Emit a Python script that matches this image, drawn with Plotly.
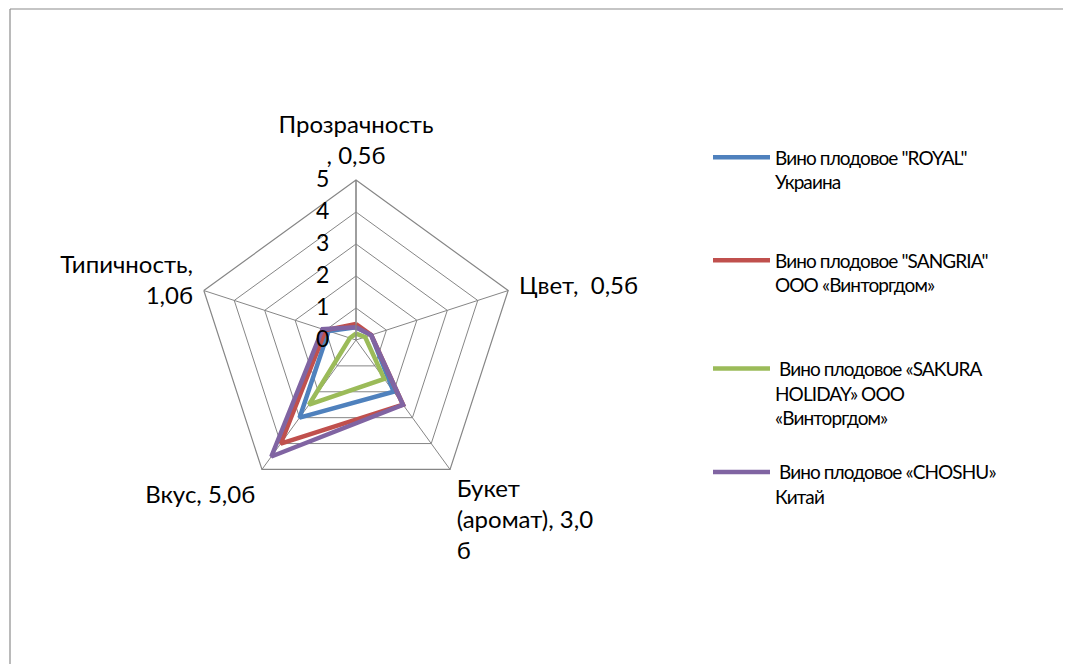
import plotly.graph_objects as go

categories = ["Прозрачность<br>, 0,5б", "Цвет,  0,5б", "Букет<br>(аромат), 3,0<br>б", "Вкус, 5,0б", "Типичность,<br>1,0б"]
series_names = [
    "Вино плодовое \"ROYAL\"<br>Украина",
    "Вино плодовое \"SANGRIA\"<br>ООО «Винторгдом»",
    " Вино плодовое «SAKURA<br>HOLIDAY» ООО<br>«Винторгдом»",
    " Вино плодовое «CHOSHU»<br>Китай",
]
royal = [0.4, 0.5, 2.0, 3.0, 0.9]
sangria = [0.5, 0.5, 2.5, 4.0, 1.0]
sakura = [0.2, 0.3, 1.5, 2.5, 0.2]
choshu = [0.4, 0.5, 2.5, 4.5, 1.1]
radial_ticks = [0, 1, 2, 3, 4, 5]

values = [royal, sangria, sakura, choshu]
colors = ["#4F81BD", "#C0504D", "#9BBB59", "#8064A2"]
legend_ids = ["legend", "legend2", "legend3", "legend4"]
legend_y = [0.8035, 0.6485, 0.4855, 0.3295]

FONT = "Lato, 'Open Sans', sans-serif"
GRID = "#868686"
W, H = 1071, 664


def tight(label):
    return "<br>".join(
        '<span style="letter-spacing:-0.9px">' + part + "</span>" for part in label.split("<br>")
    )


fig = go.Figure()
for name, vals, col, lg in zip(series_names, values, colors, legend_ids):
    fig.add_trace(go.Scatterpolar(
        r=vals + vals[:1],
        theta=categories + categories[:1],
        mode="lines",
        line=dict(color=col, width=4.5),
        name=tight(name),
        legend=lg,
    ))

legend_common = dict(
    x=700 / W, xanchor="left", yanchor="top",
    font=dict(family=FONT, size=19, color="#000"),
    bgcolor="rgba(0,0,0,0)", itemwidth=57, valign="top",
    tracegroupgap=0,
)

layout_legends = {}
for lg, y in zip(legend_ids, legend_y):
    layout_legends[lg] = dict(legend_common, y=y)

fig.update_layout(
    width=W, height=H,
    margin=dict(l=0, r=0, t=0, b=0),
    paper_bgcolor="white",
    font=dict(family=FONT, color="#000"),
    showlegend=True,
    polar=dict(
        domain=dict(x=[188 / W, 508 / W], y=[172 / H, 492 / H]),
        bgcolor="white",
        gridshape="linear",
        angularaxis=dict(
            rotation=90, direction="clockwise",
            showline=True, linecolor=GRID, linewidth=1.2,
            gridcolor=GRID, gridwidth=1.2,
            ticks="outside", ticklen=6, tickcolor="rgba(0,0,0,0)",
            tickfont=dict(family=FONT, size=24, color="#000"),
        ),
        radialaxis=dict(
            range=[0, 5], tickvals=radial_ticks,
            angle=90, tickangle=90, side="counterclockwise",
            showline=True, linecolor=GRID, linewidth=1.2,
            gridcolor=GRID, gridwidth=1.2,
            ticks="outside", ticklen=18, tickcolor="rgba(0,0,0,0)",
            tickfont=dict(family=FONT, size=23, color="#000"),
        ),
    ),
    shapes=[
        dict(type="line", xref="paper", yref="paper", x0=2 / W, x1=1.05, y0=1 - 1 / H, y1=1 - 1 / H,
             line=dict(color="#8c8c8c", width=1.2)),
        dict(type="line", xref="paper", yref="paper", x0=2 / W, x1=2 / W, y0=-0.05, y1=1 - 1 / H,
             line=dict(color="#8c8c8c", width=1.2)),
    ],
    **layout_legends,
)

fig.write_html("out.html")
